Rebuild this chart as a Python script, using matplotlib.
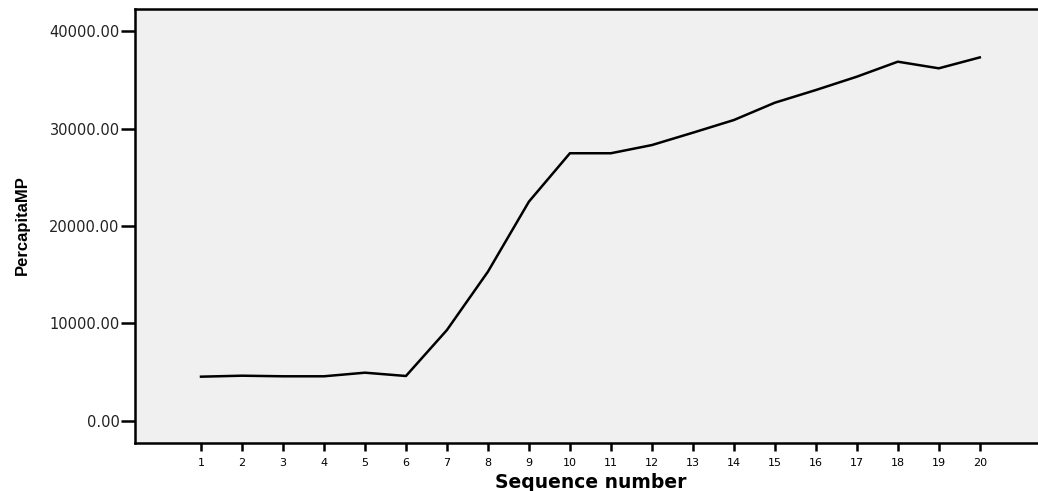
import matplotlib
matplotlib.use("Agg")
import matplotlib.pyplot as plt

# sequence numbers and per-capita values
seq = list(range(1, 21))
percapita_mp = [4520, 4620, 4560, 4560, 4930, 4590, 9310, 15300, 22490, 27460,
                27460, 28300, 29570, 30870, 32650, 33950, 35320, 36860, 36180, 37300]
yticks = [0, 10000, 20000, 30000, 40000]

fig = plt.figure(figsize=(10.38, 4.91), dpi=100)
ax = fig.add_axes([135 / 1038, 48 / 491, 1 - 135 / 1038, (443 - 9) / 491])
ax.set_facecolor("#f0f0f0")

ax.plot(seq, percapita_mp, color="black", lw=1.8, zorder=3)

ax.set_xlim(-0.61, 21.42)
ax.set_ylim(-2290, 42270)
ax.set_xticks(seq)
ax.set_xticklabels([str(s) for s in seq], fontsize=8, family="DejaVu Sans")
ax.set_yticks(yticks)
ax.set_yticklabels(["%.2f" % v for v in yticks], fontsize=10.5, family="DejaVu Sans",
                   color="#222222")

ax.tick_params(axis="y", direction="out", length=10, width=1.8, pad=1)
ax.tick_params(axis="x", direction="out", length=6, width=1.8, pad=5)

for side in ["left", "bottom", "top"]:
    ax.spines[side].set_linewidth(1.8)
ax.spines["right"].set_visible(False)

fig.text(591 / 1038, 1 - 482 / 491, "Sequence number", fontsize=13.5,
         fontweight="bold", family="DejaVu Sans", ha="center", va="center")
fig.text(22 / 1038, 1 - 225 / 491, "PercapitaMP", fontsize=12, fontweight="bold",
         family="Liberation Sans", rotation=90, ha="center", va="center")

fig.savefig("out.png", dpi=100)
